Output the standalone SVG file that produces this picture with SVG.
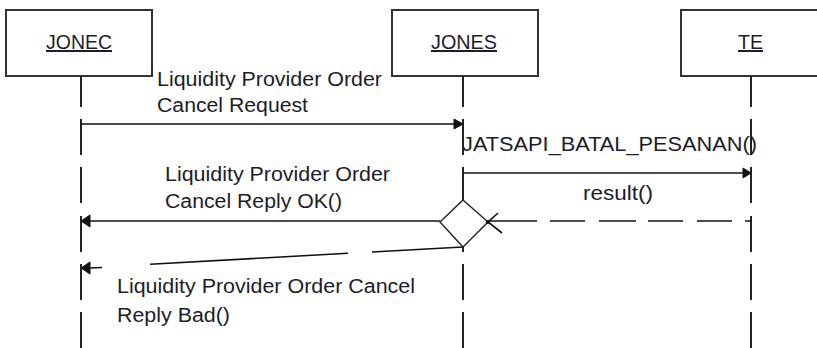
<svg xmlns="http://www.w3.org/2000/svg" width="817" height="348" viewBox="0 0 817 348">
<style>
.box{fill:#fff;stroke:#333;stroke-width:2}
.life{fill:none;stroke:#222;stroke-width:2;stroke-dasharray:31 12 36 12 36 13 36 12 36 12 36}
.msg{fill:none;stroke:#111;stroke-width:1.6}
.head{fill:#111;stroke:#111;stroke-width:1}
.t{font-family:"Liberation Sans",Arial,sans-serif;font-size:20px;fill:#1c1c2c}
.name{text-decoration:underline}
</style>
<rect width="817" height="348" fill="#fff"/>
<g id="JONEC">
<rect class="box" x="6" y="10" width="146" height="66"/>
<text class="t name" x="46" y="49" textLength="66" lengthAdjust="spacingAndGlyphs">JONEC</text>
<line class="life" x1="81" y1="76" x2="81" y2="348"/>
</g>
<g id="JONES">
<rect class="box" x="392" y="10" width="146" height="66"/>
<text class="t name" x="431" y="49" textLength="66" lengthAdjust="spacingAndGlyphs">JONES</text>
<line class="life" x1="463" y1="76" x2="463" y2="348"/>
</g>
<g id="TE">
<rect class="box" x="681" y="10" width="146" height="66"/>
<text class="t name" x="738" y="49" textLength="25" lengthAdjust="spacingAndGlyphs">TE</text>
<line class="life" x1="751" y1="76" x2="751" y2="348"/>
</g>
<g id="decision">
<polygon points="463,200 488,222 463,247 440,222" fill="#fff" stroke="#222" stroke-width="1.4"/>
</g>
<g id="connectors">
<path class="msg" d="M81,124 H455"/>
<polygon class="head" points="454,119 463,124 454,129"/>
<path class="msg" d="M463,173 H743"/>
<polygon class="head" points="743,168 751,173 743,178"/>
<path class="msg" d="M751,221 H489" stroke-dasharray="6 13 35 14 35 12 37 14 35 13 70"/>
<path class="msg" d="M498,213 L488,222 L502,233"/>
<circle cx="488" cy="222" r="2" fill="#111"/>
<path class="msg" d="M440,221 H89"/>
<polygon class="head" points="90,215 81,221 90,227"/>
<path class="msg" d="M463,247 L372,252 M348,253.3 L150,264.2 M102,267.5 L89,268"/>
<polygon class="head" points="90,262 81,268 90,274"/>
</g>
<g id="labels">
<text class="t" x="157" y="86" textLength="225" lengthAdjust="spacingAndGlyphs">Liquidity Provider Order</text>
<text class="t" x="157" y="112" textLength="151" lengthAdjust="spacingAndGlyphs">Cancel Request</text>
<text class="t" x="462" y="151" textLength="295" lengthAdjust="spacingAndGlyphs">JATSAPI_BATAL_PESANAN()</text>
<text class="t" x="583" y="200" textLength="70" lengthAdjust="spacingAndGlyphs">result()</text>
<text class="t" x="165" y="181" textLength="225" lengthAdjust="spacingAndGlyphs">Liquidity Provider Order</text>
<text class="t" x="165" y="208" textLength="177" lengthAdjust="spacingAndGlyphs">Cancel Reply OK()</text>
<text class="t" x="117" y="293" textLength="298" lengthAdjust="spacingAndGlyphs">Liquidity Provider Order Cancel</text>
<text class="t" x="117" y="322" textLength="113" lengthAdjust="spacingAndGlyphs">Reply Bad()</text>
</g>
</svg>
